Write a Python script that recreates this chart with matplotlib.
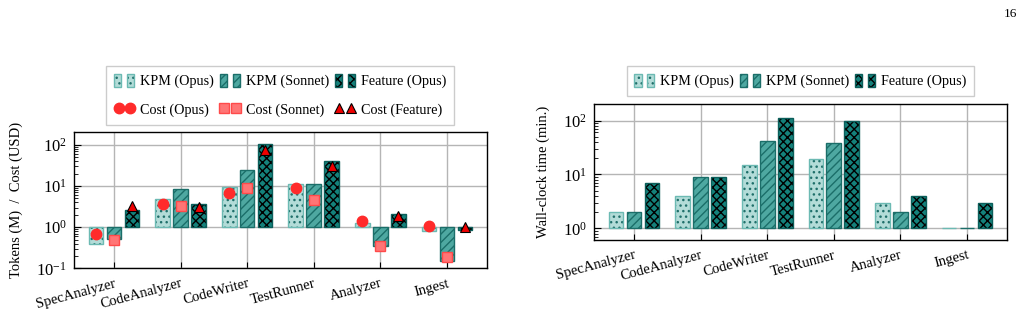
import matplotlib as mpl
mpl.use('Agg')
import matplotlib.pyplot as plt
import numpy as np
from matplotlib.colors import to_rgba
from matplotlib.lines import Line2D
from matplotlib.patches import Patch
from matplotlib.legend_handler import HandlerTuple

plt.rcParams['font.family'] = ['Liberation Serif', 'DejaVu Serif']
plt.rcParams['mathtext.fontset'] = 'cm'
plt.rcParams['font.size'] = 10.5
plt.rcParams['hatch.linewidth'] = 1.0

agents = ['SpecAnalyzer', 'CodeAnalyzer', 'CodeWriter', 'TestRunner', 'Analyzer', 'Ingest']

# tokens (M)
tok_kpm_opus = [0.40, 4.8, 9.5, 11, 1.27, 0.79]
tok_kpm_sonnet = [0.52, 8.5, 24, 11, 0.35, 0.148]
tok_feature = [2.6, 3.7, 105, 39.5, 2.1, 0.86]
# cost (USD)
cost_opus = [0.70, 3.6, 6.9, 9.1, 1.42, 1.1]
cost_sonnet = [0.49, 3.2, 8.9, 4.6, 0.35, 0.19]
cost_feature = [3.2, 3.1, 73, 30, 1.9, 1.0]
# wall-clock (min.)
time_kpm_opus = [2, 4, 15, 19, 3, 1]
time_kpm_sonnet = [2, 9, 42, 38, 2, 1]
time_feature = [7, 9, 110, 97, 4, 3]

series_style = [
    # label, face, edge, hatch, hatch colour
    ('KPM (Opus)', '#b3dcd8', '#6cbab3', '...', '#1f6f6a'),
    ('KPM (Sonnet)', '#4ea8a1', '#1b6e69', '////', '#1b6e69'),
    ('Feature (Opus)', '#14817b', '#0c5e5a', 'xxxx', '#000000'),
]

offsets = [-0.27, 0.0, 0.27]
width = 0.22


def draw_bars(ax, values_list):
    x = np.arange(len(agents))
    handles = []
    for vals, off, (label, fc, ec, hatch, hc) in zip(values_list, offsets, series_style):
        vals = np.asarray(vals, dtype=float)
        bars = ax.bar(x + off, vals - 1, bottom=1, width=width, color=fc,
                      edgecolor=ec, linewidth=1.0, hatch=hatch, zorder=3)
        for b in bars:
            b._hatch_color = to_rgba(hc)
        p = Patch(facecolor=fc, edgecolor=ec, hatch=hatch, linewidth=1.0)
        p._hatch_color = to_rgba(hc)
        handles.append(((p, p), label))
    return handles


def style_axes(ax, ylim, ylabel, labelpad):
    ax.set_yscale('log')
    ax.set_ylim(*ylim)
    ax.set_xlim(-0.6, len(agents) - 0.4)
    ax.set_xticks(np.arange(len(agents)))
    ax.set_xticklabels(agents, rotation=15, ha='right', rotation_mode='anchor',
                       fontsize=10.5)
    ax.tick_params(axis='x', direction='in', length=4, pad=6)
    ax.tick_params(axis='y', which='both', direction='in', labelsize=12, pad=5)
    ax.tick_params(axis='y', which='major', length=5)
    ax.tick_params(axis='y', which='minor', length=3)
    ax.grid(True, which='major', color='#b5b5b5', linewidth=1.0, zorder=0)
    ax.set_axisbelow(True)
    ax.set_ylabel(ylabel, fontsize=10.5, labelpad=labelpad)
    for s in ax.spines.values():
        s.set_linewidth(1.0)


fig = plt.figure(figsize=(10.3, 3.1), dpi=100)
ax1 = fig.add_axes([0.0718, 0.134, 0.401, 0.439])
ax2 = fig.add_axes([0.5767, 0.225, 0.401, 0.44])

# left: tokens and cost
h1 = draw_bars(ax1, [tok_kpm_opus, tok_kpm_sonnet, tok_feature])
x = np.arange(len(agents))
ax1.plot(x + offsets[0], cost_opus, 'o', color='#ff2b2b', markersize=7.5,
         markeredgecolor='#ff2b2b', zorder=4)
ax1.plot(x + offsets[1], cost_sonnet, 's', color='#ff7575', markersize=7,
         markeredgecolor='#ff4a4a', zorder=4)
ax1.plot(x + offsets[2], cost_feature, '^', color='#ee0000', markersize=7.5,
         markeredgecolor='black', markeredgewidth=0.8, zorder=4)
style_axes(ax1, (0.1, 200), 'Tokens (M)  /  Cost (USD)', 10)

m_opus = Line2D([], [], marker='o', linestyle='none', color='#ff2b2b', markersize=7.5)
m_sonnet = Line2D([], [], marker='s', linestyle='none', color='#ff7575',
                  markeredgecolor='#ff4a4a', markersize=7)
m_feat = Line2D([], [], marker='^', linestyle='none', color='#ee0000',
                markeredgecolor='black', markeredgewidth=0.8, markersize=7.5)

handles1 = [h1[0][0], m_opus, h1[1][0], m_sonnet, h1[2][0], m_feat]
labels1 = [h1[0][1], 'Cost (Opus)', h1[1][1], 'Cost (Sonnet)', h1[2][1], 'Cost (Feature)']
leg_kw = dict(loc='upper center', ncol=3, fancybox=False, edgecolor='#cccccc',
              framealpha=1, numpoints=2, handlelength=1.4, handleheight=1.05,
              handletextpad=0.4, columnspacing=0.45, borderpad=0.55,
              borderaxespad=0, labelspacing=1.0, fontsize=10.2,
              handler_map={tuple: HandlerTuple(ndivide=None, pad=0.4)})
leg1 = fig.legend(handles1, labels1, bbox_to_anchor=(0.272, 0.787), **leg_kw)
leg1.get_frame().set_linewidth(1.0)

# right: wall-clock time
h2 = draw_bars(ax2, [time_kpm_opus, time_kpm_sonnet, time_feature])
style_axes(ax2, (0.6, 204), 'Wall-clock time (min.)', 9)
leg2 = fig.legend([h[0] for h in h2], [h[1] for h in h2],
                  bbox_to_anchor=(0.777, 0.787), **leg_kw)
leg2.get_frame().set_linewidth(1.0)

fig.text(0.981, 0.955, '16', ha='center', va='center', fontsize=9.5)

fig.savefig('out.png', dpi=100)
